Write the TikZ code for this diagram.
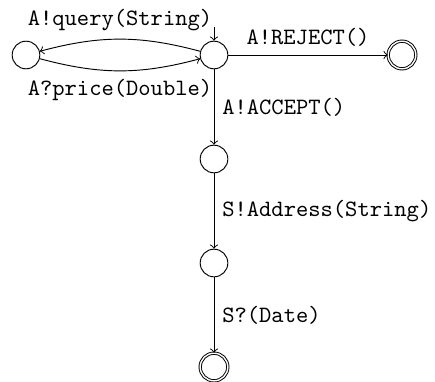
\documentclass[tikz,border=0pt]{standalone}
\usetikzlibrary{arrows}
\begin{document}
\begin{tikzpicture}[x=0.427pt,y=-0.427pt,
  every node/.style={font=\ttfamily},
  statenode/.style={circle,draw,minimum size=11.8pt,inner sep=0pt},
  acceptnode/.style={statenode,double,double distance=0.6pt},
  trans/.style={->,line width=0.4pt}]
\useasboundingbox (0,0) rectangle (435,381);
\clip (0,0) rectangle (435,381);
\node[statenode] (q0) at (26,55) {};
\node[statenode] (q1) at (214,55) {};
\node[acceptnode] (qr) at (402,55) {};
\node[statenode] (q2) at (214,159) {};
\node[statenode] (q3) at (214,263) {};
\node[acceptnode] (qf) at (214,367) {};
\coordinate (init) at (214,27);
\draw[trans] (init) -- (q1);
\draw[trans] (q1) to[bend right=15] node[above] {A!query(String)} (q0);
\draw[trans] (q0) to[bend right=15] node[below] {A?price(Double)} (q1);
\draw[trans] (q1) -- node[above] {A!REJECT()} (qr);
\draw[trans] (q1) -- node[right] {A!ACCEPT()} (q2);
\draw[trans] (q2) -- node[right] {S!Address(String)} (q3);
\draw[trans] (q3) -- node[right] {S?(Date)} (qf);
\end{tikzpicture}
\end{document}
